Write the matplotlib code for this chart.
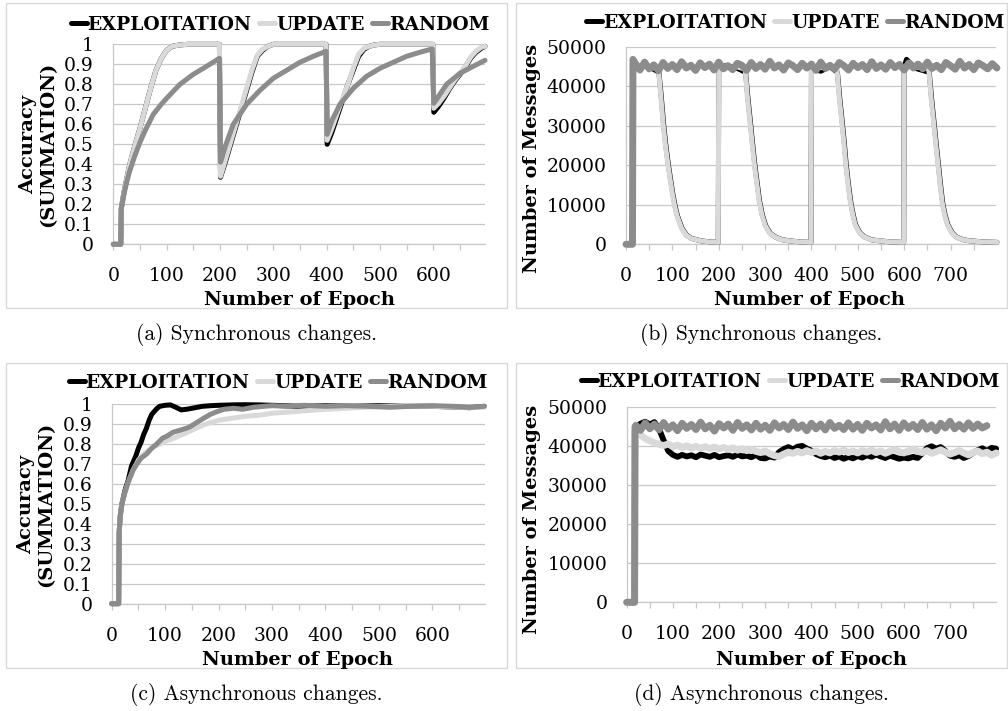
import numpy as np
import matplotlib
matplotlib.use('Agg')
import matplotlib.pyplot as plt
from matplotlib.patches import Rectangle
from matplotlib.ticker import MultipleLocator, FuncFormatter

# series names and colours
names = ['EXPLOITATION', 'UPDATE', 'RANDOM']
colors = ['#000000', '#d9d9d9', '#8c8c8c']

# (a) synchronous changes, accuracy
a_upd_x = [0, 14, 15, 20, 30, 40, 50, 60, 70, 80, 90, 100, 110, 125, 140, 199,
           201, 210, 220, 230, 240, 250, 260, 270, 280, 290, 300, 399,
           401, 410, 420, 430, 440, 450, 460, 470, 480, 490, 500, 599,
           601, 610, 620, 630, 640, 650, 660, 670, 680, 690, 697]
a_upd_y = [0, 0, 0.18, 0.26, 0.39, 0.49, 0.58, 0.68, 0.78, 0.87, 0.93, 0.97, 0.99, 0.997, 1, 1,
           0.34, 0.42, 0.51, 0.60, 0.69, 0.78, 0.87, 0.945, 0.975, 0.99, 1, 1,
           0.52, 0.58, 0.655, 0.73, 0.80, 0.88, 0.95, 0.98, 0.99, 0.997, 1, 1,
           0.68, 0.705, 0.74, 0.78, 0.82, 0.855, 0.89, 0.935, 0.965, 0.985, 0.99]
a_expl_x = a_upd_x
a_expl_y = [0, 0, 0.18, 0.26, 0.39, 0.49, 0.58, 0.68, 0.78, 0.87, 0.93, 0.97, 0.99, 0.997, 1, 1,
            0.335, 0.41, 0.50, 0.59, 0.68, 0.77, 0.86, 0.94, 0.97, 0.99, 1, 1,
            0.50, 0.56, 0.64, 0.72, 0.80, 0.87, 0.94, 0.975, 0.99, 0.997, 1, 1,
            0.66, 0.69, 0.73, 0.775, 0.815, 0.85, 0.885, 0.93, 0.96, 0.98, 0.99]
a_rand_x = [0, 14, 15, 20, 25, 30, 40, 50, 60, 75, 90, 100, 125, 150, 175, 199,
            201, 210, 225, 250, 275, 300, 325, 350, 375, 399,
            401, 410, 425, 450, 475, 500, 525, 550, 575, 598,
            601, 610, 625, 650, 675, 697]
a_rand_y = [0, 0, 0.18, 0.25, 0.31, 0.36, 0.44, 0.51, 0.57, 0.65, 0.70, 0.73, 0.80, 0.85, 0.89, 0.93,
            0.41, 0.49, 0.60, 0.70, 0.77, 0.83, 0.87, 0.91, 0.94, 0.965,
            0.55, 0.62, 0.70, 0.78, 0.84, 0.88, 0.91, 0.94, 0.96, 0.977,
            0.705, 0.74, 0.80, 0.855, 0.89, 0.92]

# (b) synchronous changes, messages
b_upd_x = [0, 14, 15, 30, 50, 70, 75, 80, 85, 90, 95, 100, 105, 110, 120, 130, 140, 160, 180, 199,
           200, 220, 240, 257, 262, 268, 272, 277, 282, 287, 293, 300, 310, 322, 335, 350, 375, 399,
           400, 420, 440, 455, 460, 466, 470, 474, 479, 484, 489, 494, 503, 513, 530, 545, 570, 599,
           600, 620, 640, 653, 658, 664, 668, 673, 677, 682, 687, 693, 702, 711, 725, 739, 770, 800]
b_upd_y = [0, 0, 44800, 44700, 44900, 44300, 37500, 30500, 25000, 20500, 16500, 12800, 9600, 7200,
           4000, 2300, 1500, 900, 600, 500,
           44800, 44700, 44900, 44300, 37000, 30200, 25500, 20000, 15500, 11000, 7500,
           4800, 2800, 1800, 1200, 900, 600, 500,
           44800, 44700, 44900, 44300, 37000, 30200, 25500, 20000, 15000, 10500, 7500, 5000,
           3000, 1900, 1100, 900, 600, 500,
           44800, 44700, 44900, 44300, 37000, 30200, 25500, 20000, 15500, 10500, 7500, 5000,
           3000, 1900, 1200, 900, 600, 500]
b_expl_x = [0, 14, 15, 25, 40, 55, 71, 76, 81, 86, 91, 96, 101, 106, 111, 121, 131, 141, 161, 181, 199,
            200, 215, 235, 258, 263, 269, 273, 278, 283, 288, 294, 301, 311, 323, 336, 351, 376, 399,
            400, 420, 440, 456, 461, 467, 471, 475, 480, 485, 490, 495, 504, 514, 531, 546, 571, 599,
            600, 605, 625, 654, 659, 665, 669, 674, 678, 683, 688, 694, 703, 712, 726, 740, 771, 800]
b_expl_y = [0, 0, 46000, 44800, 45500, 44600, 43500, 37500, 30500, 25000, 20500, 16500, 12800, 9600, 7200,
            4000, 2300, 1500, 900, 600, 500,
            44500, 45200, 44800, 43500, 37000, 30200, 25500, 20000, 15500, 11000, 7500,
            4800, 2800, 1800, 1200, 900, 600, 500,
            44500, 43800, 44900, 43500, 37000, 30200, 25500, 20000, 15000, 10500, 7500, 5000,
            3000, 1900, 1100, 900, 600, 500,
            45000, 46800, 44500, 43500, 37000, 30200, 25500, 20000, 15500, 10500, 7500, 5000,
            3000, 1900, 1200, 900, 600, 500]
b_rand_y = [0, 0, 46800,
            45800, 44100, 46100, 44400, 45400, 43900, 46000, 44500, 45500, 44200,
            46200, 44600, 45300, 44000, 45900, 44700, 45600, 44100, 46100, 44400,
            45200, 44200, 45800, 45300, 44000, 46000, 44500, 45500, 44300, 46300,
            44600, 45400, 44100, 45900, 45200, 44200, 45800, 44600, 45600, 44000,
            46100, 44500, 45300, 44300, 46000, 45200, 44100, 45800, 44700, 45500,
            44200, 46200, 44500, 45400, 44300, 46000, 44700, 45500, 44100, 45900,
            44600, 45600, 44400, 46100, 44500, 45300, 44200, 46000, 45200, 44300,
            46300, 44600, 45500, 44200, 45900, 45200, 44400, 45700, 44600]
b_rand_x = [0, 14, 15] + list(range(20, 801, 10))

# (c) asynchronous changes, accuracy
c_expl_x = [0, 13, 14, 16, 19, 25, 31, 37, 45, 50, 55, 60, 65, 70, 75, 80, 85, 90, 100, 110, 120,
            130, 140, 150, 160, 170, 185, 200, 225, 250, 275, 300, 350, 400, 450, 500, 550, 600,
            650, 670, 697]
c_expl_y = [0, 0, 0.36, 0.44, 0.50, 0.57, 0.62, 0.69, 0.74, 0.78, 0.81, 0.85, 0.88, 0.92, 0.95, 0.965,
            0.98, 0.99, 0.995, 0.997, 0.985, 0.972, 0.975, 0.98, 0.985, 0.99, 0.993, 0.995, 0.997,
            0.998, 0.997, 0.995, 0.99, 0.993, 0.99, 0.993, 0.99, 0.99, 0.985, 0.983, 0.99]
c_upd_x = [0, 13, 14, 16, 19, 25, 31, 40, 50, 60, 70, 80, 90, 100, 112, 125, 138, 150, 162, 175, 188,
           200, 225, 250, 275, 300, 325, 350, 375, 400, 425, 450, 475, 500, 550, 600, 650, 697]
c_upd_y = [0, 0, 0.36, 0.44, 0.50, 0.56, 0.61, 0.67, 0.72, 0.75, 0.77, 0.79, 0.80, 0.815, 0.825, 0.84,
           0.855, 0.87, 0.885, 0.90, 0.91, 0.92, 0.93, 0.94, 0.945, 0.955, 0.96, 0.965, 0.97, 0.975,
           0.978, 0.982, 0.985, 0.988, 0.99, 0.99, 0.985, 0.985]
c_rand_x = [0, 13, 14, 16, 19, 25, 31, 40, 47, 55, 65, 75, 84, 95, 103, 115, 128, 140, 147, 160, 172,
            185, 197, 210, 228, 245, 265, 285, 300, 330, 360, 400, 440, 480, 520, 560, 600, 640, 670, 697]
c_rand_y = [0, 0, 0.36, 0.44, 0.50, 0.56, 0.61, 0.67, 0.70, 0.73, 0.75, 0.78, 0.80, 0.83, 0.84, 0.86,
            0.87, 0.88, 0.888, 0.91, 0.93, 0.95, 0.963, 0.975, 0.98, 0.975, 0.985, 0.99, 0.993, 0.99,
            0.995, 0.99, 0.993, 0.99, 0.985, 0.99, 0.993, 0.99, 0.985, 0.99]

# (d) asynchronous changes, messages
d_expl_y = [0, 0, 45000,
            45000, 45800, 46300, 45600, 46200, 44500, 41500, 38800, 37800, 37300,
            37800, 37400, 37700, 37200, 37900, 37600, 37300, 37800, 37200, 37500,
            37700, 37300, 37900, 37400, 37600, 37200, 37800, 37000, 36900, 37400,
            37100, 38500, 39300, 39800, 39200, 39900, 40100, 39400, 38900, 38000,
            37500, 37200, 37600, 37000, 37400, 36800, 37300, 36900, 37500, 37100,
            37700, 37300, 37900, 37400, 37000, 37600, 37200, 36800, 37100, 36900,
            37300, 37000, 38200, 39500, 40000, 39400, 39800, 38800, 37600, 37300,
            37700, 37000, 37500, 38300, 39000, 39500, 38800, 39600, 39400]
d_upd_y = [0, 0, 44000,
           43800, 42900, 42000, 41400, 40900, 40500, 40200, 40600, 39900, 40300,
           39700, 40100, 39600, 40000, 39500, 39900, 39400, 39800, 39300, 39700,
           39200, 39600, 39000, 39400, 38900, 39200, 38700, 38400, 38800, 38100,
           37600, 37400, 38000, 38500, 38200, 38700, 38300, 38900, 38400, 38800,
           38200, 38700, 38300, 38900, 38500, 39000, 38400, 38800, 38300, 38900,
           38500, 39000, 38400, 38800, 38200, 38700, 39200, 38600, 38300, 38800,
           39300, 38700, 38400, 38900, 38200, 38600, 39100, 38500, 38000, 38400,
           38900, 38300, 37800, 38400, 38800, 38100, 38500, 37700, 38300]
d_rand_y = [0, 0, 45000,
            45400, 44100, 46000, 44500, 45700, 44200, 46100, 44400, 45500, 44000,
            45900, 44600, 45600, 44300, 46200, 44500, 45400, 43900, 45800, 44700,
            45700, 44100, 46100, 44600, 45500, 44200, 45900, 44400, 45400, 44100,
            46000, 44700, 45600, 44300, 46200, 44600, 45500, 44000, 45900, 44500,
            45700, 44200, 46100, 44600, 45400, 44300, 46000, 44400, 45600, 44100,
            45900, 44700, 45500, 44200, 46300, 44500, 45700, 44100, 46000, 44600,
            45600, 44300, 46100, 44400, 45500, 44000, 45900, 44700, 46400, 44500,
            45600, 44400, 46000, 44600, 45700, 44700, 45300]
d_expl_x = [0, 17, 18] + list(range(20, 801, 10))
d_upd_x = d_expl_x
d_rand_x = [0, 17, 18] + list(range(20, 781, 10))

captions = ['(a) Synchronous changes.', '(b) Synchronous changes.',
            '(c) Asynchronous changes.', '(d) Asynchronous changes.']

W, H = 1008, 711
fig = plt.figure(figsize=(W / 100, H / 100), dpi=100)


def fx(x):
    return x / W


def fy(y):
    return 1 - y / H


def make_axes(left, top, right, bottom):
    return fig.add_axes([fx(left), fy(bottom), (right - left) / W, (bottom - top) / H])


serif = 'DejaVu Serif'
bold = dict(family=serif, weight='bold', size=14)
legfont = dict(family=serif, weight='bold', size=13.5)

# noisy panels get thicker lines so the band looks like the original
panels = [
    dict(rect=(113.3, 44.3, 485, 244.3), xmax=697, acc=True, lws=[3.6, 3.6, 3.6],
         data=[(a_expl_x, a_expl_y), (a_upd_x, a_upd_y), (a_rand_x, a_rand_y)],
         box=(6, 3, 507, 308), leg=(280, 25), ylab=(38, 144), xlab=(299, 305), cap=(256, 335)),
    dict(rect=(626, 46.7, 996, 244.3), xmax=798, acc=False, lws=[3.6, 3.6, 5.0],
         data=[(b_expl_x, b_expl_y), (b_upd_x, b_upd_y), (b_rand_x, b_rand_y)],
         box=(516, 3, 1007, 308), leg=(795, 23), ylab=(532, 158), xlab=(810, 305), cap=(761, 335)),
    dict(rect=(111.7, 404.3, 485, 603.7), xmax=698.5, acc=True, lws=[3.6, 3.6, 3.6],
         data=[(c_expl_x, c_expl_y), (c_upd_x, c_upd_y), (c_rand_x, c_rand_y)],
         box=(6, 363, 507, 668), leg=(278, 383), ylab=(36, 504), xlab=(297, 665), cap=(256, 695)),
    dict(rect=(626.7, 407.3, 995.7, 602.3), xmax=799, acc=False, lws=[4.2, 5.0, 5.0],
         data=[(d_expl_x, d_expl_y), (d_upd_x, d_upd_y), (d_rand_x, d_rand_y)],
         box=(516, 363, 1007, 668), leg=(790, 382), ylab=(532, 519), xlab=(811, 665), cap=(761, 695)),
]

for i, p in enumerate(panels):
    bx0, by0, bx1, by1 = p['box']
    fig.add_artist(Rectangle((fx(bx0), fy(by1)), (bx1 - bx0) / W, (by1 - by0) / H,
                             transform=fig.transFigure, fill=False, ec='#d9d9d9', lw=1))
    ax = make_axes(*p['rect'])
    for k, (xs, ys) in enumerate(p['data']):
        ax.plot(xs, ys, color=colors[k], lw=p['lws'][k], label=names[k], zorder=3 + k,
                solid_joinstyle='round', solid_capstyle='round', clip_on=False)
    ax.set_xlim(0, p['xmax'])
    if p['acc']:
        ax.set_ylim(0, 1)
        ax.yaxis.set_major_locator(MultipleLocator(0.1))
        ax.yaxis.set_major_formatter(FuncFormatter(lambda v, pos: f'{v:.1f}'.rstrip('0').rstrip('.') if v else '0'))
        ylabel = 'Accuracy\n(SUMMATION)'
    else:
        ax.set_ylim(0, 50000)
        ax.yaxis.set_major_locator(MultipleLocator(10000))
        ax.yaxis.set_major_formatter(FuncFormatter(lambda v, pos: f'{v:.0f}'))
        ylabel = 'Number of Messages'
    ax.xaxis.set_major_locator(MultipleLocator(50))
    ax.xaxis.set_major_formatter(FuncFormatter(lambda v, pos: f'{v:.0f}' if round(v) % 100 == 0 else ''))
    ax.grid(axis='y', color='#c8c8c8', lw=0.9, zorder=0)
    ax.set_axisbelow(True)
    for s in ['top', 'right']:
        ax.spines[s].set_visible(False)
    for s in ['left', 'bottom']:
        ax.spines[s].set_color('#c8c8c8')
        ax.spines[s].set_linewidth(0.9)
    ax.tick_params(axis='y', length=0, pad=14, labelsize=13.5, labelfontfamily=serif)
    ax.tick_params(axis='x', length=4.5, width=0.9, color='#c8c8c8', pad=12,
                   labelsize=13.5, labelfontfamily=serif)

    cx, cy = p['leg']
    leg = ax.legend(loc='center', bbox_to_anchor=(fx(cx), fy(cy)), bbox_transform=fig.transFigure,
                    ncol=3, frameon=False, handlelength=0.85, handletextpad=0.05,
                    columnspacing=0.4, prop=legfont, borderaxespad=0, borderpad=0)
    for h in leg.legend_handles:
        h.set_linewidth(3.6)

    lx, ly = p['ylab']
    fig.text(fx(lx), fy(ly), ylabel, rotation=90, ha='center', va='center',
             multialignment='center', linespacing=1.15, **bold)
    xx, xy = p['xlab']
    fig.text(fx(xx), fy(xy), 'Number of Epoch', ha='center', va='baseline', **bold)
    tx, ty = p['cap']
    fig.text(fx(tx), fy(ty), captions[i], ha='center', va='center', family='cmr10', size=15.5)

plt.savefig('out.png', dpi=100)
plt.close()
